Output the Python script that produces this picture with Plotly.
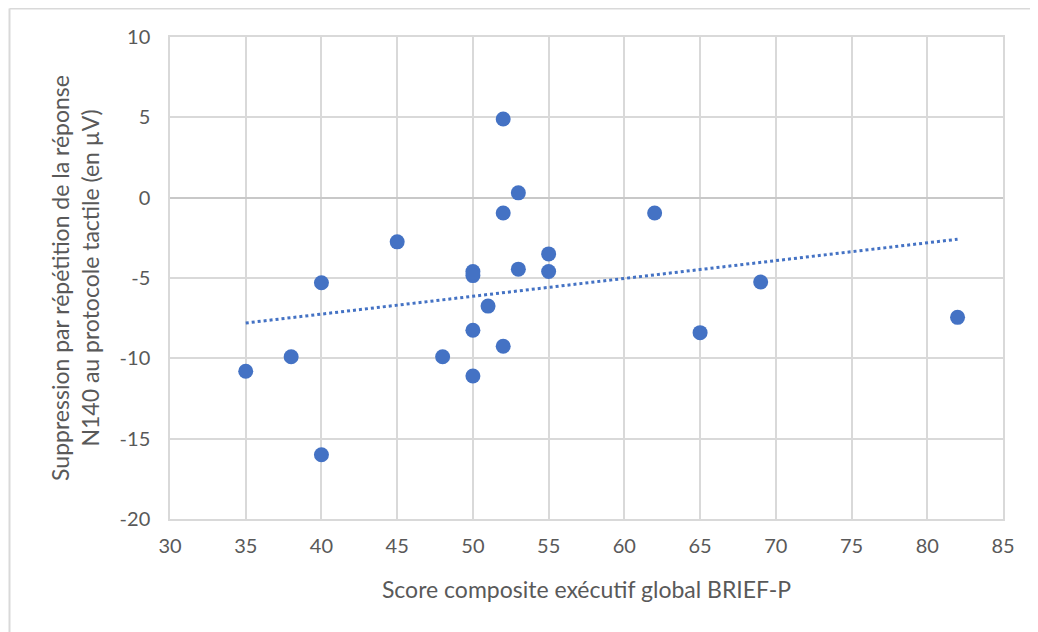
import numpy as np
import plotly.graph_objects as go

# BRIEF-P global executive composite score vs N140 repetition suppression
brief_p = [35, 38, 40, 40, 45, 48, 50, 50, 50, 50, 51, 52, 52, 52, 53, 53, 55, 55, 62, 65, 69, 82]
n140_supp = [-10.8, -9.9, -16.0, -5.3, -2.75, -9.9, -4.6, -4.85, -8.25, -11.1, -6.75, 4.9, -0.95,
             -9.25, 0.3, -4.45, -3.5, -4.6, -0.95, -8.4, -5.25, -7.45]

x_ticks = [30, 35, 40, 45, 50, 55, 60, 65, 70, 75, 80, 85]
y_ticks = [10, 5, 0, -5, -10, -15, -20]

blue = "#4472C4"
grid = "#D9D9D9"
font = "Lato, Open Sans, sans-serif"

# linear trend line (Excel style), drawn across the data range
slope, icpt = np.polyfit(brief_p, n140_supp, 1)
tx = [min(brief_p), max(brief_p)]
ty = [slope * v + icpt for v in tx]

fig = go.Figure()
fig.add_trace(go.Scatter(x=tx, y=ty, mode="lines",
                         line=dict(color=blue, width=3, dash="dot"),
                         hoverinfo="skip", showlegend=False))
fig.add_trace(go.Scatter(x=brief_p, y=n140_supp, mode="markers",
                         marker=dict(color=blue, size=15),
                         showlegend=False))

# page has an 8px body margin, so everything is shifted up/left by 8
pw, ph, bot = 833, 482, 511
fig.update_layout(
    width=1038, height=632,
    margin=dict(l=162, r=43, t=29, b=121),
    paper_bgcolor="white", plot_bgcolor="white",
    font=dict(family=font, color="#595959", size=20),
    xaxis=dict(range=[30, 85], tickvals=x_ticks, ticktext=[str(v) for v in x_ticks],
               showgrid=True, gridcolor=grid, gridwidth=1.5,
               zeroline=False, showline=True, linecolor=grid, linewidth=1.5, mirror=True,
               ticks="", ticklabelstandoff=8,
               title=dict(text="Score composite exécutif global BRIEF-P", font=dict(size=23), standoff=26)),
    yaxis=dict(range=[-20, 10], tickvals=y_ticks, ticktext=[str(v) for v in y_ticks],
               showgrid=True, gridcolor=grid, gridwidth=1.5,
               zeroline=True, zerolinecolor="#C8C8C8", zerolinewidth=2,
               showline=True, linecolor=grid, linewidth=1.5, mirror=True,
               ticks="", ticklabelstandoff=14,
               title=dict(text="Suppression par répétition de la réponse<br>N140 au protocole tactile (en µV)",
                          font=dict(size=23), standoff=14)),
    shapes=[
        # chart frame: only the top and left edges are visible
        dict(type="line", xref="paper", yref="paper",
             x0=(1.5 - 162) / pw, x1=(1.5 - 162) / pw,
             y0=(bot - 640) / ph, y1=(bot - 0.5) / ph,
             line=dict(color=grid, width=2)),
        dict(type="line", xref="paper", yref="paper",
             x0=(1.5 - 162) / pw, x1=(1040 - 162) / pw,
             y0=(bot - 0.5) / ph, y1=(bot - 0.5) / ph,
             line=dict(color=grid, width=2)),
    ],
)

fig.write_html("out.html")
